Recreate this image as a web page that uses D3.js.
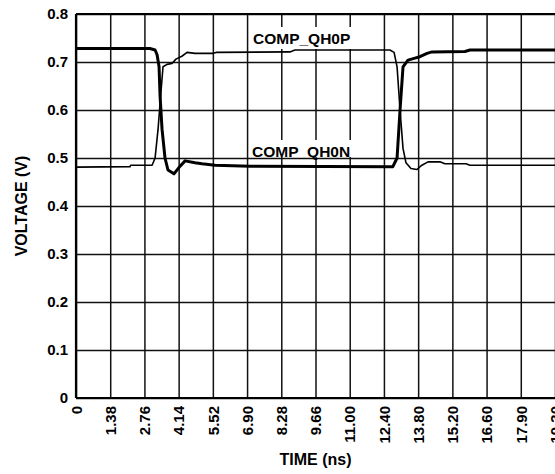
<!DOCTYPE html>
<html>
<head>
<meta charset="utf-8">
<script src="https://cdn.jsdelivr.net/npm/d3@7"></script>
<style>
  body { margin: 0; background: #fff; }
  svg { display: block; font-family: "Liberation Sans", Arial, sans-serif; font-weight: bold; }
</style>
</head>
<body>
<svg id="chart" width="555" height="474"></svg>
<script>
// tick labels as printed on the scope plot
const timeLabels = ["0", "1.38", "2.76", "4.14", "5.52", "6.90", "8.28", "9.66",
  "11.00", "12.40", "13.80", "15.20", "16.60", "17.90", "19.30"];
const voltTicks = [0, 0.1, 0.2, 0.3, 0.4, 0.5, 0.6, 0.7, 0.8];

// COMP_QH0P (thin trace)
const qh0pTime = [0, 2.18, 2.2, 3.07, 3.19, 3.31, 3.43, 3.51, 3.67, 3.87, 4.03, 4.27, 4.48, 4.80,
  5.53, 5.65, 8.63, 8.83, 12.66, 12.83, 12.95, 13.07, 13.19, 13.31, 13.51, 13.75, 13.95,
  14.20, 14.68, 14.88, 15.73, 15.89, 19.32];
const qh0pVolt = [0.481, 0.482, 0.485, 0.485, 0.50, 0.56, 0.64, 0.69, 0.695, 0.697, 0.706, 0.712, 0.72, 0.718,
  0.718, 0.72, 0.721, 0.725, 0.725, 0.72, 0.69, 0.60, 0.52, 0.49, 0.478, 0.476, 0.485,
  0.492, 0.492, 0.488, 0.488, 0.485, 0.485];

// COMP_QH0N (thick trace)
const qh0nTime = [0, 2.98, 3.19, 3.27, 3.35, 3.39, 3.47, 3.59, 3.71, 3.95, 4.15, 4.40, 4.80, 5.08,
  5.61, 7.02, 12.78, 12.95, 13.07, 13.19, 13.39, 13.67, 13.87, 14.16, 14.36, 15.69, 15.89, 19.32];
const qh0nVolt = [0.728, 0.728, 0.725, 0.715, 0.69, 0.63, 0.56, 0.50, 0.475, 0.467, 0.48, 0.494, 0.49, 0.488,
  0.485, 0.483, 0.482, 0.50, 0.60, 0.69, 0.704, 0.708, 0.711, 0.718, 0.721, 0.722, 0.725, 0.725];

const svg = d3.select("#chart");
const plotL = 76, plotR = 555, plotT = 14, plotB = 398;

const x = d3.scaleLinear().domain([0, 19.32]).range([plotL, plotR]);
const y = d3.scaleLinear().domain([0, 0.8]).range([plotB, plotT]);

// vertical grid + rotated time labels
const xAxis = svg.append("g")
  .attr("transform", `translate(0,${plotB})`)
  .call(d3.axisBottom(x)
    .tickValues(timeLabels.map((d, i) => i * 1.38))
    .tickSizeInner(-(plotB - plotT))
    .tickSizeOuter(0)
    .tickFormat((d, i) => timeLabels[i]));
xAxis.select(".domain").remove();
xAxis.selectAll(".tick line").attr("stroke", "#111").attr("stroke-width", 1.5);
xAxis.selectAll(".tick text")
  .attr("transform", "rotate(-90)")
  .attr("x", -8).attr("y", 0).attr("dy", "0.35em")
  .attr("text-anchor", "end")
  .attr("font-size", 15).attr("fill", "#000");

// horizontal grid + voltage labels
const yAxis = svg.append("g")
  .attr("transform", `translate(${plotL},0)`)
  .call(d3.axisLeft(y)
    .tickValues(voltTicks)
    .tickSizeInner(-(plotR - plotL))
    .tickSizeOuter(0)
    .tickPadding(8)
    .tickFormat(d => d === 0 ? "0" : d3.format(".1f")(d)));
yAxis.select(".domain").remove();
yAxis.selectAll(".tick line").attr("stroke", "#111").attr("stroke-width", 1.5);
yAxis.selectAll(".tick text").attr("font-size", 15).attr("fill", "#000");

// frame edges
svg.append("line").attr("x1", plotL).attr("x2", plotR).attr("y1", plotT).attr("y2", plotT)
  .attr("stroke", "#000").attr("stroke-width", 2);
svg.append("line").attr("x1", plotL).attr("x2", plotL).attr("y1", plotT).attr("y2", plotB)
  .attr("stroke", "#000").attr("stroke-width", 2.2);
svg.append("line").attr("x1", plotL).attr("x2", plotR).attr("y1", plotB).attr("y2", plotB)
  .attr("stroke", "#000").attr("stroke-width", 2.2);

// trace labels sit on white boxes that hide the grid
const traceLabels = [
  { text: "COMP_QH0P", x: 253, base: 44, boxTop: 27, boxBottom: 49 },
  { text: "COMP_QH0N", x: 252, base: 157, boxTop: 140, boxBottom: 157 }
];
traceLabels.forEach(l => {
  svg.append("rect").attr("x", l.x - 3).attr("y", l.boxTop)
    .attr("width", 104).attr("height", l.boxBottom - l.boxTop).attr("fill", "#fff");
  svg.append("text").attr("x", l.x).attr("y", l.base)
    .attr("font-size", 15.5).attr("fill", "#000").text(l.text);
});

const line = d3.line().x(d => x(d[0])).y(d => y(d[1]));

svg.append("path")
  .datum(d3.zip(qh0pTime, qh0pVolt))
  .attr("d", line).attr("fill", "none")
  .attr("stroke", "#000").attr("stroke-width", 1.6).attr("stroke-linejoin", "round");

svg.append("path")
  .datum(d3.zip(qh0nTime, qh0nVolt))
  .attr("d", line).attr("fill", "none")
  .attr("stroke", "#000").attr("stroke-width", 3).attr("stroke-linejoin", "round");

// axis titles
svg.append("text").attr("x", (plotL + plotR) / 2).attr("y", 465)
  .attr("text-anchor", "middle").attr("font-size", 16).text("TIME (ns)");
svg.append("text")
  .attr("transform", `translate(27,${(plotT + plotB) / 2}) rotate(-90)`)
  .attr("text-anchor", "middle").attr("font-size", 16).text("VOLTAGE (V)");
</script>
</body>
</html>
